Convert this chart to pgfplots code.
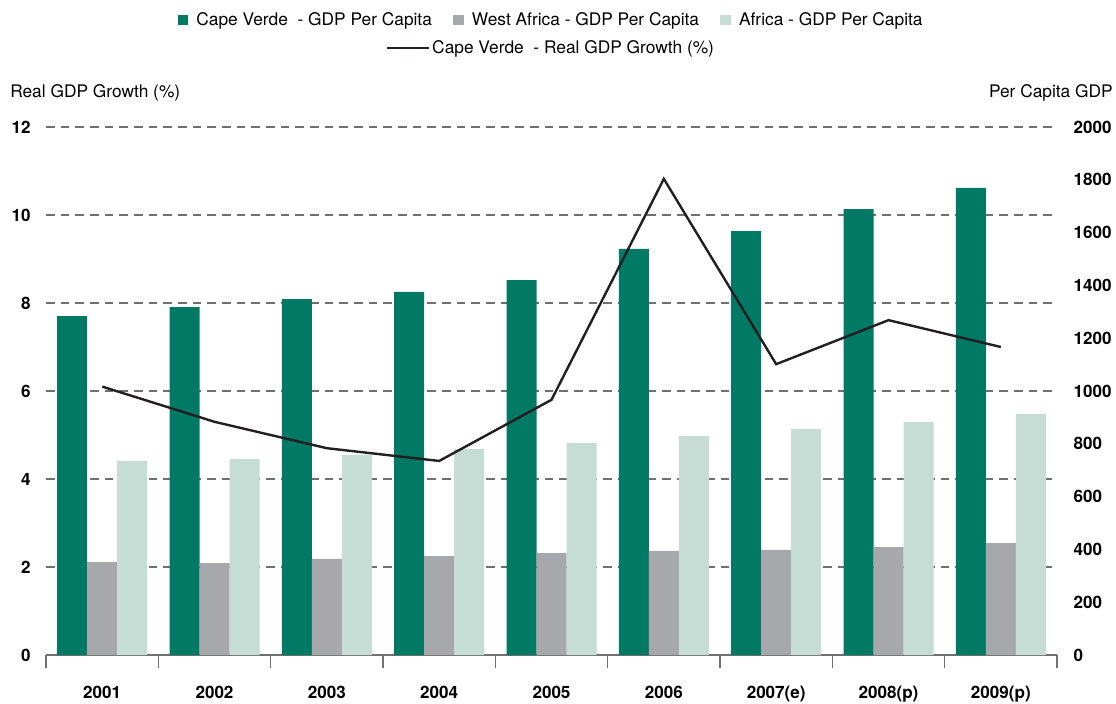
\documentclass[border=0pt]{standalone}
\usepackage{fontspec}
\setmainfont{TeX Gyre Heros}
\usepackage{pgfplots}
\pgfplotsset{compat=1.18}
\definecolor{cvgreen}{HTML}{007A64}
\definecolor{wagrey}{HTML}{A7A8AB}
\definecolor{afgreen}{HTML}{C5DDD4}
\definecolor{gridgrey}{HTML}{707070}
\definecolor{linecol}{HTML}{231F20}
\begin{document}
\begin{tikzpicture}
\pgfplotsset{
  common/.style={
    scale only axis, width=758.25pt, height=396pt,
    xmin=-0.5, xmax=8.5,
    at={(0pt,0pt)}, anchor=south west,
    clip mode=individual,
    /pgf/number format/assume math mode=true,
    /pgf/number format/1000 sep={},
    font=\fontsize{13pt}{15pt}\selectfont,
  },
  sqleg/.style={legend image code/.code={\fill[##1] (0pt,-4pt) rectangle (8pt,4pt);}},
}
\begin{axis}[common,
  ymin=0, ymax=2000,
  axis x line*=bottom, axis y line*=right,
  x axis line style={gridgrey, line width=1.1pt},
  y axis line style={draw=none},
  xtick={-0.5,0.5,...,8.5},
  x tick label as interval,
  xticklabels={2001,2002,2003,2004,2005,2006,2007(e),2008(p),2009(p)},
  xticklabel style={font=\fontsize{12.8pt}{15pt}\selectfont\bfseries, yshift=-10pt},
  tick align=inside,
  major tick length=10pt,
  xtick style={draw=gridgrey, line width=1pt},
  ytick={0,200,...,2000},
  ytick style={draw=none},
  yticklabel style={font=\fontsize{12.8pt}{15pt}\selectfont\bfseries, anchor=west, xshift=9pt},
  extra y ticks={333.333,666.667,1000,1333.333,1666.667,2000},
  extra y tick labels={},
  extra y tick style={grid=major, major grid style={gridgrey, dash pattern=on 6.5pt off 4.5pt, line width=1.1pt}, tick style={draw=none}},
  ybar=0pt, bar width=22.5pt,
  legend columns=3,
  legend style={draw=none, fill=none, at={(0.5,1)}, anchor=center, yshift=80.25pt,
    font=\fontsize{13pt}{15pt}\selectfont,
    /tikz/every odd column/.append style={column sep=4pt},
    /tikz/every even column/.append style={column sep=14pt}},
  legend cell align=left,
]
\addplot[fill=cvgreen, draw=none, sqleg] coordinates {(0,1284) (1,1318) (2,1348) (3,1375) (4,1420) (5,1538) (6,1606) (7,1689) (8,1769)};
\addplot[fill=wagrey, draw=none, sqleg] coordinates {(0,352) (1,348) (2,364) (3,375) (4,386) (5,394) (6,398) (7,409) (8,424)};
\addplot[fill=afgreen, draw=none, sqleg] coordinates {(0,735) (1,742) (2,758) (3,780) (4,803) (5,830) (6,856) (7,883) (8,913)};
\legend{Cape Verde\ \ - GDP Per Capita, West Africa - GDP Per Capita, Africa - GDP Per Capita}
\node[anchor=east, inner sep=0pt, xshift=42pt, yshift=25.5pt, font=\fontsize{13pt}{15pt}\selectfont] at (rel axis cs:1,1) {Per Capita GDP};
\end{axis}
\begin{axis}[common,
  ymin=0, ymax=12,
  axis x line=none, axis y line*=left,
  y axis line style={draw=none},
  ytick={0,2,...,12},
  ytick style={draw=none},
  yticklabel style={font=\fontsize{12.8pt}{15pt}\selectfont\bfseries, anchor=east, xshift=-8pt},
  legend style={draw=none, fill=none, at={(0.5,1)}, anchor=center, yshift=59.25pt,
    font=\fontsize{13pt}{15pt}\selectfont},
  legend image code/.code={\draw[#1, line width=1.4pt] (0pt,0pt) -- (31pt,0pt);},
]
\addplot[linecol, line width=1.8pt] coordinates {(0,6.1) (1,5.3) (2,4.7) (3,4.41) (4,5.8) (5,10.82) (6,6.61) (7,7.61) (8,7.0)};
\legend{Cape Verde\ \ - Real GDP Growth (\%)}
\node[anchor=west, inner sep=0pt, xshift=-27pt, yshift=25.5pt, font=\fontsize{13pt}{15pt}\selectfont] at (rel axis cs:0,1) {Real GDP Growth (\%)};
\end{axis}
\pgfresetboundingbox
\path[use as bounding box] (-34.5pt,-36pt) rectangle (802.5pt,491.25pt);
\end{tikzpicture}
\end{document}
